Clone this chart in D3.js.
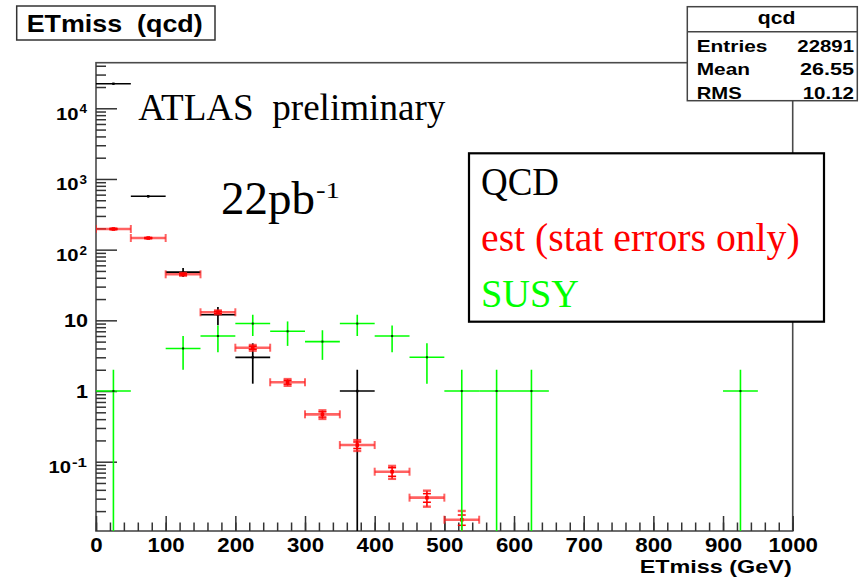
<!DOCTYPE html>
<html><head><meta charset="utf-8">
<script src="https://cdn.jsdelivr.net/npm/d3@7"></script>
<style>
html,body{margin:0;padding:0;background:#fff;}
svg{display:block;}
text{white-space:pre;}
</style></head><body>
<svg id="c" width="863" height="579"></svg>
<script>
// ETmiss histograms, 50 GeV bins (lower bin edges in GeV)
const binWidth = 50;

const qcdLow = [0, 50, 100, 150, 200, 350];
const qcdVal = [22257, 570, 48, 12, 3, 1];
const qcdErr = [149.2, 23.9, 6.93, 3.46, 1.73, 1];

const estLow = [0, 50, 100, 150, 200, 250, 300, 350, 400, 450, 500];
const estVal = [196, 146, 44.8, 13.0, 4.1, 1.33, 0.468, 0.172, 0.0722, 0.031, 0.0151];
const estErrIn = [1.5, 1, 1, 0.4, 0.2, 0.08, 0.04, 0.018, 0.010, 0.0043, 0.0025];
const estErrOut = [3, 2, 2, 0.8, 0.38, 0.145, 0.065, 0.03, 0.015, 0.0079, 0.005];

const susyLow = [0, 100, 150, 200, 250, 300, 350, 400, 450, 500, 550, 600, 900];
const susyVal = [1, 4, 6, 9, 7, 5, 9, 6, 3, 1, 1, 1, 1];
const susyErr = [1, 2, 2.45, 3, 2.65, 2.24, 3, 2.45, 1.73, 1, 1, 1, 1];

const xTickVals = [0, 100, 200, 300, 400, 500, 600, 700, 800, 900, 1000];
const yMajor = [0.1, 1, 10, 100, 1000, 10000];
const yLabels = [["10", "-1"], ["1", ""], ["10", ""], ["10", "2"], ["10", "3"], ["10", "4"]];
const xTitle = "ETmiss (GeV)";
const histTitle = "ETmiss  (qcd)";
const statsName = "qcd";
const statsRows = [["Entries", "22891"], ["Mean", "26.55"], ["RMS", "10.12"]];
const legendItems = ["QCD", "est (stat errors only)", "SUSY"];
const atlasText = "ATLAS  preliminary";
const lumiText = ["22pb", "-1"];

const svg = d3.select("#c");
const SANS = "'Liberation Sans', Arial, Helvetica, sans-serif";
const SERIF = "'Liberation Serif', 'Times New Roman', Times, serif";

const plot = {l: 96, t: 62.7, r: 792.7, b: 531};
const x = d3.scaleLinear().domain([0, 1000]).range([plot.l, plot.r]);
const yMin = 0.01046;
const y = d3.scaleLog().domain([yMin, 44160]).range([plot.b, plot.t]);

svg.append("rect").attr("width", 863).attr("height", 579).attr("fill", "#fff");

// clip region for the data
svg.append("defs").append("clipPath").attr("id", "plotClip")
  .append("rect").attr("x", plot.l).attr("y", plot.t)
  .attr("width", plot.r - plot.l).attr("height", plot.b - plot.t);

// frame
svg.append("rect").attr("x", plot.l).attr("y", plot.t)
  .attr("width", plot.r - plot.l).attr("height", plot.b - plot.t)
  .attr("fill", "none").attr("stroke", "#4a4a4a").attr("stroke-width", 1.6);

// axes ticks
function styleTicks(g) {
  g.select(".domain").remove();
  g.selectAll(".tick line").attr("stroke", "#333").attr("stroke-width", 1.5);
}
const xMinorAxis = svg.append("g").attr("transform", `translate(0,${plot.b})`)
  .call(d3.axisBottom(x).tickValues(x.ticks(50)).tickSize(-8.5).tickFormat("").tickSizeOuter(0));
styleTicks(xMinorAxis);
const xAxis = svg.append("g").attr("transform", `translate(0,${plot.b})`)
  .call(d3.axisBottom(x).tickValues(xTickVals).tickFormat(d3.format("d"))
    .tickSize(-15).tickPadding(7).tickSizeOuter(0));
styleTicks(xAxis);
xAxis.selectAll(".tick text")
  .attr("font-family", SANS).attr("font-weight", "bold").attr("font-size", 20).attr("fill", "#000")
  .attr("textLength", d => String(d).length * 12.4).attr("lengthAdjust", "spacingAndGlyphs");

const yMinorTicks = y.ticks().filter(v => yMajor.indexOf(v) < 0 && v > yMin);
const yMinorAxis = svg.append("g").attr("transform", `translate(${plot.l},0)`)
  .call(d3.axisLeft(y).tickValues(yMinorTicks).tickSize(-10).tickFormat("").tickSizeOuter(0));
styleTicks(yMinorAxis);
const yAxis = svg.append("g").attr("transform", `translate(${plot.l},0)`)
  .call(d3.axisLeft(y).tickValues(yMajor).tickSize(-21).tickPadding(9).tickSizeOuter(0));
styleTicks(yAxis);
yAxis.selectAll(".tick").each(function(d) {
  const g = d3.select(this);
  g.select("text").remove();
  const [base, sup] = yLabels[yMajor.indexOf(d)];
  const common = t => t.attr("font-family", SANS).attr("font-weight", "bold")
    .attr("fill", "#000").attr("text-anchor", "end").attr("lengthAdjust", "spacingAndGlyphs");
  if (!sup) {
    g.append("text").call(common).attr("x", -8).attr("y", 6.3).attr("font-size", 18)
      .attr("textLength", base.length * 12).text(base);
  } else {
    const supW = sup.length * 7.5;
    g.append("text").call(common).attr("x", -9).attr("y", 4.5).attr("font-size", 12.5)
      .attr("textLength", supW).text(sup);
    g.append("text").call(common).attr("x", -9 - supW - 1).attr("y", 11).attr("font-size", 16.5)
      .attr("textLength", 22.5).text(base);
  }
});

// axis title
svg.append("text").attr("x", plot.r - 1).attr("y", 573.3).attr("text-anchor", "end")
  .attr("font-family", SANS).attr("font-weight", "bold").attr("font-size", 18.6)
  .attr("textLength", 152).attr("lengthAdjust", "spacingAndGlyphs").text(xTitle);

// data layers
const data = svg.append("g").attr("clip-path", "url(#plotClip)");
const lo = (v, e) => y(Math.max(v - e, yMin * 0.5));

function line(g, x1, y1, x2, y2, color, w, op) {
  g.append("line").attr("x1", x1).attr("y1", y1).attr("x2", x2).attr("y2", y2)
    .attr("stroke", color).attr("stroke-width", w).attr("stroke-opacity", op == null ? 1 : op);
}

// QCD
const gq = data.append("g");
qcdLow.forEach((b, i) => {
  const v = qcdVal[i], e = qcdErr[i];
  const xc = x(b + binWidth / 2), yv = y(v);
  line(gq, x(b), yv, x(b + binWidth), yv, "#000", 1.7);
  line(gq, xc, y(v + e), xc, lo(v, e), "#000", 1.7);
  gq.append("rect").attr("x", xc - 1.2).attr("y", yv - 1.2).attr("width", 2.4).attr("height", 2.4).attr("fill", "#000");
});

// estimate (two sets of error bars with caps)
const ge = data.append("g");
estLow.forEach((b, i) => {
  const v = estVal[i], ei = estErrIn[i], eo = estErrOut[i];
  const x0 = x(b), x1 = x(b + binWidth), xc = x(b + binWidth / 2), yv = y(v);
  line(ge, x0, yv, x1, yv, "#ff2020", 2.6, 0.7);
  line(ge, x0, yv - 4, x0, yv + 4, "#ff2020", 2, 0.7);
  line(ge, x1, yv - 4, x1, yv + 4, "#ff2020", 2, 0.7);
  line(ge, xc, y(v + eo), xc, lo(v, eo), "#ff0000", 1.6);
  [y(v + eo), lo(v, eo)].forEach(yy => line(ge, xc - 4, yy, xc + 4, yy, "#ff2020", 2.4, 0.75));
  [y(v + ei), lo(v, ei)].forEach(yy => line(ge, xc - 4, yy, xc + 4, yy, "#ff0000", 1.5));
  ge.append("rect").attr("x", xc - 1.8).attr("y", yv - 1.8).attr("width", 3.6).attr("height", 3.6).attr("fill", "#ff0000");
});

// SUSY
const gs = data.append("g");
susyLow.forEach((b, i) => {
  const v = susyVal[i], e = susyErr[i];
  const xc = x(b + binWidth / 2), yv = y(v);
  line(gs, x(b), yv, x(b + binWidth), yv, "#00ff00", 1.6);
  line(gs, xc, y(v + e), xc, lo(v, e), "#00ff00", 1.6);
  gs.append("rect").attr("x", xc - 1).attr("y", yv - 1).attr("width", 2).attr("height", 2).attr("fill", "#003300");
});

// annotations
svg.append("text").attr("x", 138.3).attr("y", 119.5)
  .attr("font-family", SERIF).attr("font-size", 37).attr("fill", "#000")
  .attr("textLength", 307).attr("lengthAdjust", "spacingAndGlyphs").text(atlasText);
svg.append("text").attr("x", 221).attr("y", 214)
  .attr("font-family", SERIF).attr("font-size", 47).attr("fill", "#000")
  .attr("textLength", 94).attr("lengthAdjust", "spacingAndGlyphs").text(lumiText[0]);
svg.append("text").attr("x", 316).attr("y", 198)
  .attr("font-family", SERIF).attr("font-size", 23).attr("fill", "#000")
  .attr("textLength", 24).attr("lengthAdjust", "spacingAndGlyphs").text(lumiText[1]);

// legend
svg.append("rect").attr("x", 469).attr("y", 153.3).attr("width", 355).attr("height", 168.4)
  .attr("fill", "#fff").attr("stroke", "#000").attr("stroke-width", 2.2);
const legendColors = ["#000", "#ff0000", "#00ff00"];
const legendWidths = [78, 318.7, 98];
legendItems.forEach((t, i) => {
  svg.append("text").attr("x", 481).attr("y", 195 + i * 55.8)
    .attr("font-family", SERIF).attr("font-size", 40).attr("fill", legendColors[i])
    .attr("textLength", legendWidths[i]).attr("lengthAdjust", "spacingAndGlyphs").text(t);
});

// title box
svg.append("rect").attr("x", 16.7).attr("y", 6).attr("width", 198.3).attr("height", 34)
  .attr("fill", "#fff").attr("stroke", "#333").attr("stroke-width", 1.5);
svg.append("text").attr("x", 26.7).attr("y", 32.3)
  .attr("font-family", SANS).attr("font-weight", "bold").attr("font-size", 24).attr("fill", "#000")
  .attr("textLength", 176).attr("lengthAdjust", "spacingAndGlyphs").text(histTitle);

// statistics box
svg.append("rect").attr("x", 687.3).attr("y", 6.7).attr("width", 170).attr("height", 94)
  .attr("fill", "#fff").attr("stroke", "#444").attr("stroke-width", 1.5);
line(svg, 687.3, 31.7, 857.3, 31.7, "#444", 1.5);
svg.append("text").attr("x", 776.7).attr("y", 24).attr("text-anchor", "middle")
  .attr("font-family", SANS).attr("font-weight", "bold").attr("font-size", 18).attr("fill", "#000")
  .attr("textLength", 37.7).attr("lengthAdjust", "spacingAndGlyphs").text(statsName);
const labelW = [70.7, 53.3, 45], valueW = [56.7, 54, 51.3];
statsRows.forEach(([k, v], i) => {
  const yy = 51.7 + i * 23.5;
  svg.append("text").attr("x", 696.7).attr("y", yy)
    .attr("font-family", SANS).attr("font-weight", "bold").attr("font-size", 17.3).attr("fill", "#000")
    .attr("textLength", labelW[i]).attr("lengthAdjust", "spacingAndGlyphs").text(k);
  svg.append("text").attr("x", 854).attr("y", yy).attr("text-anchor", "end")
    .attr("font-family", SANS).attr("font-weight", "bold").attr("font-size", 17.3).attr("fill", "#000")
    .attr("textLength", valueW[i]).attr("lengthAdjust", "spacingAndGlyphs").text(v);
});
</script>
</body></html>
